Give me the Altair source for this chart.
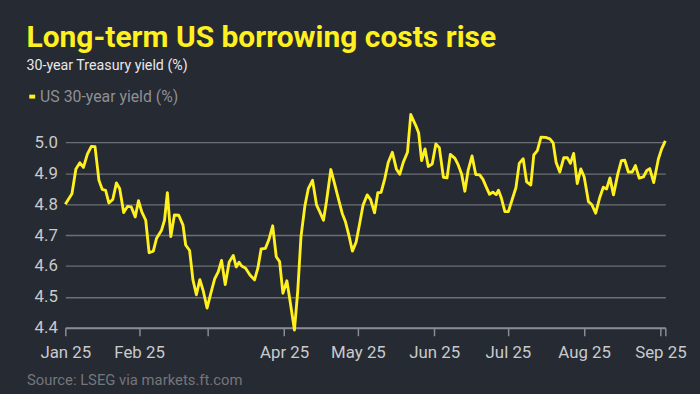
import altair as alt
import pandas as pd

# Days since 2 Jan 2025 and 30-year yield (%)
day_offsets = [0, 2.69, 4.30, 5.91, 7.36, 8.97, 10.58, 12.07, 13.67, 15.0, 16.37, 17.70,
               19.30, 20.79, 22.12, 23.73, 25.34, 26.82, 28.43, 29.76, 31.09, 32.70, 34.06,
               35.79, 37.12, 39.13, 40.34, 41.50, 42.91, 44.36, 46.13, 47.86, 48.94, 50.55,
               51.88, 53.29, 54.70, 56.10, 57.63, 59.24, 60.73, 62.22, 63.54, 65.03, 66.64,
               68.29, 69.50, 70.66, 71.71, 73.32, 75.09, 76.94, 78.30, 79.63, 81.36, 82.73,
               84.33, 85.78, 87.15, 88.48, 90.09, 91.41, 93.18, 94.51, 95.84, 97.45, 98.81,
               100.54, 102.15, 103.48, 104.97, 106.17, 107.98, 109.51, 110.88, 112.61, 113.93,
               115.30, 116.75, 118.24, 119.57, 121.05, 122.78, 124.15, 125.76, 127.09, 128.41,
               129.90, 131.31, 133.0, 134.61, 136.01, 137.46, 139.15, 140.48, 142.77, 143.70,
               144.90, 146.27, 147.60, 149.21, 150.69, 152.10, 153.75, 155.24, 156.57, 158.45,
               159.78, 161.15, 162.48, 163.80, 165.41, 166.90, 168.51, 169.84, 171.20, 172.53,
               173.86, 175.23, 176.15, 177.32, 178.76, 180.17, 183.27, 184.60, 186.20, 187.61,
               189.30, 190.51, 191.96, 193.44, 195.33, 197.06, 198.39, 199.60, 201.09, 202.69,
               204.18, 205.39, 206.72, 208.20, 209.65, 211.02, 212.75, 214.08, 215.68, 217.29,
               218.78, 220.11, 221.48, 222.92, 224.69, 226.14, 227.51, 228.96, 230.52, 231.85,
               233.38, 235.07, 236.48, 237.68, 239.29, 241.18, 242.51, 244.0]

yields = [4.800, 4.834, 4.914, 4.934, 4.919, 4.962, 4.987, 4.986, 4.877, 4.848, 4.845, 4.804,
          4.815, 4.869, 4.850, 4.773, 4.793, 4.791, 4.759, 4.811, 4.775, 4.748, 4.643,
          4.648, 4.690, 4.716, 4.748, 4.837, 4.695, 4.765, 4.764, 4.732, 4.668, 4.650,
          4.556, 4.507, 4.556, 4.519, 4.464, 4.514, 4.558, 4.582, 4.618, 4.540, 4.613,
          4.634, 4.597, 4.612, 4.600, 4.593, 4.571, 4.555, 4.593, 4.655, 4.657, 4.684,
          4.730, 4.630, 4.614, 4.512, 4.552, 4.486, 4.393, 4.518, 4.695, 4.796, 4.850,
          4.877, 4.798, 4.775, 4.748, 4.807, 4.912, 4.866, 4.823, 4.770, 4.743,
          4.700, 4.648, 4.677, 4.732, 4.796, 4.830, 4.815, 4.772, 4.837, 4.838,
          4.882, 4.935, 4.968, 4.914, 4.897, 4.936, 4.968, 5.090, 5.050, 5.030,
          4.941, 4.979, 4.922, 4.930, 4.995, 4.983, 4.887, 4.885, 4.961, 4.948,
          4.927, 4.898, 4.842, 4.909, 4.956, 4.896, 4.895, 4.880, 4.855, 4.832,
          4.839, 4.831, 4.845, 4.820, 4.776, 4.776, 4.854, 4.932, 4.947, 4.872,
          4.862, 4.959, 4.973, 5.017, 5.016, 5.011, 4.998, 4.935, 4.904, 4.950,
          4.950, 4.932, 4.964, 4.867, 4.914, 4.888, 4.808, 4.799, 4.771, 4.820,
          4.855, 4.849, 4.885, 4.830, 4.898, 4.941, 4.942, 4.904, 4.904, 4.925,
          4.884, 4.888, 4.909, 4.915, 4.870, 4.946, 4.979, 5.005]

series_name = "US 30-year yield (%)"
y_ticks = [4.4, 4.5, 4.6, 4.7, 4.8, 4.9, 5.0]
month_ticks = ["2025-01-02", "2025-02-01", "2025-03-01", "2025-04-01", "2025-05-01",
               "2025-06-01", "2025-07-01", "2025-08-01", "2025-09-01", "2025-09-03"]

start = pd.Timestamp("2025-01-02")
df = pd.DataFrame({
    "date": start + pd.to_timedelta(day_offsets, unit="D"),
    "yield": yields,
    "series": series_name,
})

tick_values = [alt.DateTime(year=int(s[:4]), month=int(s[5:7]), date=int(s[8:10])) for s in month_ticks]

BG = "#262a33"
YELLOW = "#fff01f"
GRID = "#6c6f76"
LABEL = "#c9cacd"
FONT = "Roboto"

chart = alt.Chart(df).mark_line(strokeWidth=2.9, strokeJoin="round").encode(
    x=alt.X(
        "date:T",
        scale=alt.Scale(domain=[alt.DateTime(year=2025, month=1, date=2),
                                alt.DateTime(year=2025, month=9, date=3)]),
        axis=alt.Axis(
            values=tick_values,
            labelExpr="(month(datum.value) == 2 || (month(datum.value) == 8 && date(datum.value) == 3)) ? '' : timeFormat(datum.value, '%b %y')",
            labelOverlap=False,
            labelFlush=False,
            grid=False,
            domainColor="#8a8c91",
            domainWidth=2,
            tickColor="#8a8c91",
            tickWidth=1.5,
            tickSize=8,
            labelFontSize=17,
            labelColor=LABEL,
            labelFont=FONT,
            labelPadding=9,
            title="Source: LSEG via markets.ft.com",
            titleX=-39.3,
            titleY=57,
            titleAlign="left",
            titleAnchor="start",
            titleBaseline="alphabetic",
            titleFontSize=15,
            titleFontWeight="normal",
            titleColor="#74767c",
            titleFont=FONT,
        ),
    ),
    y=alt.Y(
        "yield:Q",
        scale=alt.Scale(domain=[4.4, 5.1], nice=False, zero=False),
        axis=alt.Axis(
            values=y_ticks,
            format=".1f",
            domain=False,
            ticks=False,
            tickSize=0,
            gridColor=GRID,
            gridWidth=1.3,
            labelFontSize=17,
            labelColor=LABEL,
            labelFont=FONT,
            labelPadding=8,
            title=None,
        ),
    ),
    color=alt.Color(
        "series:N",
        scale=alt.Scale(domain=[series_name], range=[YELLOW]),
        legend=alt.Legend(
            orient="none",
            legendX=-43.5,
            legendY=-23,
            title=None,
            symbolType="stroke",
            symbolStrokeWidth=4,
            symbolSize=36,
            symbolOffset=2,
            labelFontSize=16,
            labelColor="#8e9095",
            labelFont=FONT,
            labelOffset=0,
        ),
    ),
).properties(
    width=607,
    height=218.9,
    background=BG,
    padding={"left": 58, "top": 102.4, "right": 27, "bottom": 64},
    autosize=alt.AutoSizeParams(type="none"),
    title=alt.TitleParams(
        text="Long-term US borrowing costs rise",
        subtitle="30-year Treasury yield (%)",
        anchor="start",
        frame="group",
        dx=-39.3,
        offset=17,
        fontSize=30.3,
        fontWeight="bold",
        color=YELLOW,
        font=FONT,
        subtitleFontSize=14.4,
        subtitleColor="#e8e8ea",
        subtitleFont=FONT,
        subtitlePadding=6,
    ),
).configure_view(stroke=None)

chart.save("out.html", embed_options={"renderer": "svg", "actions": False,
                                      "defaultStyle": "html, body { background: #262a33; overflow: hidden; }"})
